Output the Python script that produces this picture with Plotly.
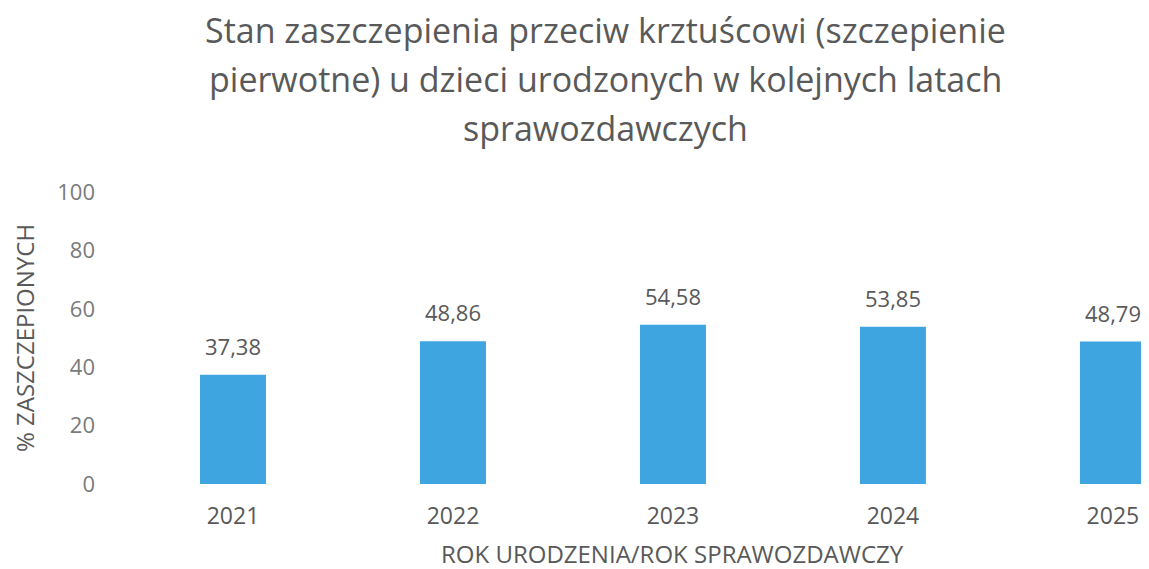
import plotly.graph_objects as go

# data
years = ["2021", "2022", "2023", "2024", "2025"]
pct_vaccinated = [37.38, 48.86, 54.58, 53.85, 48.79]
y_ticks = [0, 20, 40, 60, 80, 100]

title_lines = [
    "Stan zaszczepienia przeciw krztuścowi (szczepienie",
    "pierwotne) u dzieci urodzonych w kolejnych latach",
    "sprawozdawczych",
]
x_title = "ROK URODZENIA/ROK SPRAWOZDAWCZY"

FONT = "Open Sans, Lato, sans-serif"
TEXT = "#595959"
BAR = "#3FA5E0"

# the page body adds an 8px margin, so the figure is drawn 8px smaller
W, H = 1141, 561
L, T, B = 115, 184, 85
plot_w, plot_h = W - L, H - T - B


def px_x(x):
    return (x - L) / plot_w


def px_y(y):
    return (plot_h + T - y) / plot_h


fig = go.Figure()
fig.add_bar(x=years, y=pct_vaccinated, width=0.3, marker_color=BAR,
            marker_line_width=0, hoverinfo="skip")

# value labels sitting above each bar (category axis -> use index positions)
for i, v in enumerate(pct_vaccinated):
    fig.add_annotation(x=i, y=v, text=f"{v:.2f}".replace(".", ","),
                       showarrow=False, yanchor="bottom", yshift=12,
                       font=dict(family=FONT, size=22, color=TEXT))

# title, one annotation per line to keep the wide line spacing
for i, line in enumerate(title_lines):
    fig.add_annotation(xref="paper", yref="paper", x=px_x(597),
                       y=px_y(22 + 49 * i), text=line, showarrow=False,
                       xanchor="center", yanchor="middle",
                       font=dict(family=FONT, size=34, color=TEXT))

# x title is centred on the original (wider, cropped) plot area
fig.add_annotation(xref="paper", yref="paper", x=px_x(664), y=px_y(545),
                   text=x_title, showarrow=False, xanchor="center",
                   yanchor="middle", font=dict(family=FONT, size=24, color=TEXT))

fig.update_layout(
    width=W, height=H,
    margin=dict(l=L, r=0, t=T, b=B, autoexpand=False),
    paper_bgcolor="white", plot_bgcolor="white",
    showlegend=False,
    font=dict(family=FONT, color=TEXT),
    xaxis=dict(type="category", range=[-0.5, 4.164], showgrid=False,
               zeroline=False, showline=False, ticks="",
               ticklabelstandoff=16,
               tickfont=dict(size=23, color=TEXT)),
    yaxis=dict(range=[0, 100], tickvals=y_ticks, showgrid=False,
               zeroline=False, showline=False, ticks="",
               ticklabelstandoff=27,
               tickfont=dict(size=22, color="#7a7a7a"),
               title=dict(text="% ZASZCZEPIONYCH",
                          font=dict(size=24, color=TEXT), standoff=18)),
)

fig.write_html("out.html")
